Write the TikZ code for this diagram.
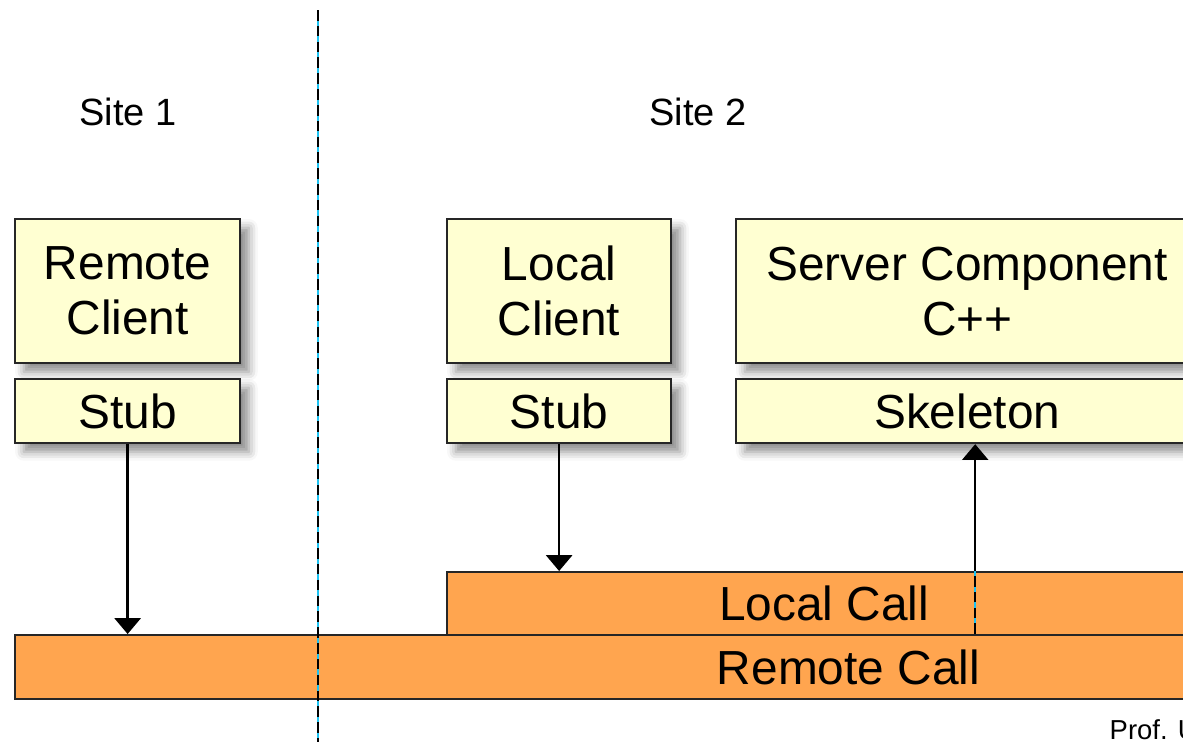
\documentclass[tikz,border=0pt]{standalone}
\usepackage{fontspec}
\setmainfont{Liberation Sans}
\usetikzlibrary{arrows.meta,shadows.blur}
\definecolor{jaunepale}{HTML}{FFFFD2}
\definecolor{orangeappel}{HTML}{FFA54F}
\definecolor{cyantrait}{HTML}{1EC3F2}
\tikzset{
  boite/.style={draw=black!85, line width=0.6pt, fill=jaunepale, inner sep=0pt,
    anchor=north west, align=center, font=\fontsize{13.6}{15.6}\selectfont,
    blur shadow={shadow xshift=2.5pt, shadow yshift=-2.5pt, shadow blur radius=2.5pt, shadow opacity=45}},
  appel/.style={draw=black!85, line width=0.6pt, fill=orangeappel, inner sep=0pt,
    anchor=north west, font=\fontsize{13.6}{15.6}\selectfont},
  site/.style={font=\fontsize{10.8}{13}\selectfont},
  fleche/.style={line width=0.7pt, -{Triangle[width=7.4pt,length=4.5pt]}},
  tirets/.style={line width=0.5pt, dash pattern=on 3pt off 1.5pt}
}
\begin{document}
\begin{tikzpicture}[x=0.01cm, y=-0.01cm]
        \useasboundingbox (0,0) rectangle (1183,741);
        \clip (0,0) rectangle (1183,741);

        % Sites
        \node[site] (site1) at (128,112) {Site 1};
        \node[site] (site2) at (698,112) {Site 2};

        % Site 1 : client distant
        \node[boite, minimum width=2.25cm, minimum height=1.44cm] (rclient) at (14,218) {Remote\\Client};
        \node[boite, minimum width=2.25cm, minimum height=0.64cm] (stub1) at (14,378) {Stub};

        % Site 2 : client local et serveur
        \node[boite, minimum width=2.24cm, minimum height=1.44cm] (lclient) at (446,218) {Local\\Client};
        \node[boite, minimum width=2.24cm, minimum height=0.64cm] (stub2) at (446,378) {Stub};
        \node[boite, minimum width=4.62cm, minimum height=1.44cm] (server) at (735,218) {Server Component\\C++};
        \node[boite, minimum width=4.62cm, minimum height=0.64cm] (skel) at (735,378) {Skeleton};

        % Appels
        \node[appel, minimum width=7.54cm, minimum height=0.63cm] (lcall) at (446,571) {Local Call};
        \node[appel, minimum width=16.66cm, minimum height=0.64cm] (rcall) at (14,634) {Remote Call};

        % Separation des sites
        \coordinate (sephaut) at (318,10);
        \coordinate (sepbas) at (318,745);
        \draw[cyantrait, line width=0.5pt] (sephaut) -- (sepbas);
        \draw[tirets] (sephaut) -- (sepbas);

        % Fleches
        \draw[fleche] (stub1.south) -- (stub1.south |- rcall.north);
        \draw[fleche] (stub2.south) -- (stub2.south |- lcall.north);
        \coordinate (skelpied) at ([xshift=0.08cm]skel.south);
        \draw[cyantrait, line width=0.5pt] (skelpied |- rcall.north) -- (skelpied |- lcall.north);
        \draw[tirets] (skelpied |- rcall.north) -- (skelpied |- lcall.north);
        \draw[fleche] (skelpied |- lcall.north) -- (skelpied);

        % Auteur
        \node[anchor=base west, inner sep=0pt, font=\fontsize{7.8}{9}\selectfont] (prof) at (1109,739) {Prof. U};
\end{tikzpicture}
\end{document}
